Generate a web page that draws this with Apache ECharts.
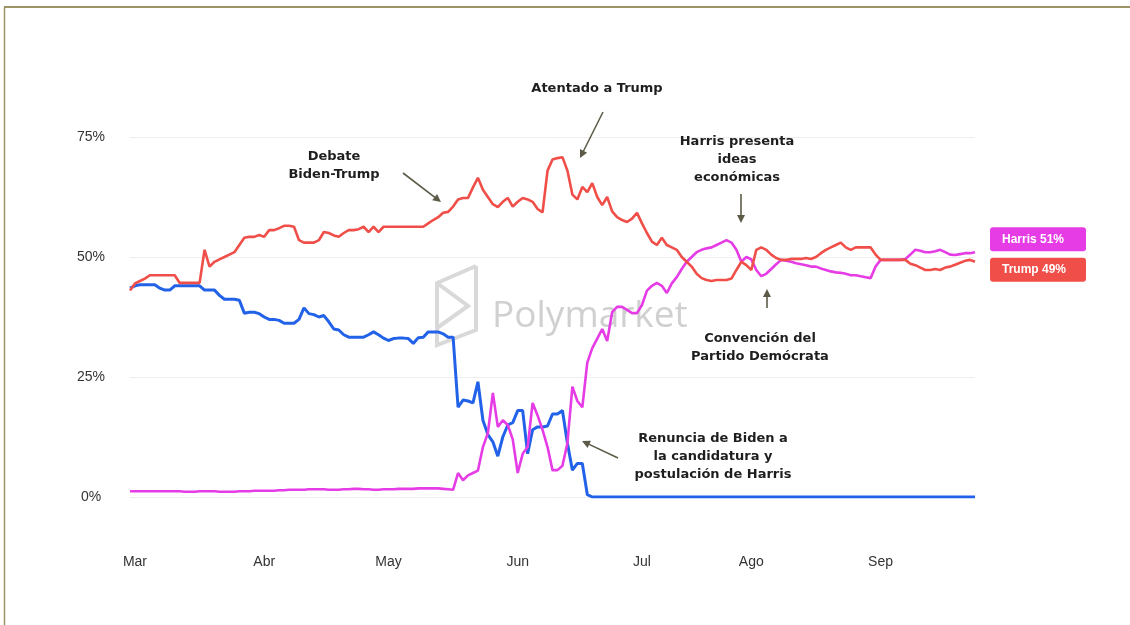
<!DOCTYPE html>
<html>
<head>
<meta charset="utf-8">
<script src="https://cdn.jsdelivr.net/npm/echarts@6/dist/echarts.min.js"></script>
<style>
html,body{margin:0;padding:0;background:#fff;}
#chart{width:1130px;height:625px;}
</style>
</head>
<body>
<div id="chart"></div>
<script>
// ---- DATA (daily-ish samples, Mar -> late Sep, values in %) ----
const trump = [
43,44.5,45,45.5,46.2,46.2,46.2,46.2,46.2,46.2,
44.6,44.6,44.6,44.6,44.6,51.5,48,49,49.5,50,
50.5,51,52.5,54,54.2,54.2,54.6,54.2,55.6,55.6,
56,56.5,56.5,56.3,53.5,53,53,53,53.5,55.2,
55,54.5,54.2,55,55.6,55.6,55.8,56.3,55.2,56.3,
55.2,56.3,56.3,56.3,56.3,56.3,56.3,56.3,56.3,56.3,
57,57.7,58.3,59.2,59.4,60.5,62,62.3,62.3,64.5,
66.5,64,62.5,61,60.4,61.5,62.3,60.5,61.5,62.3,
62,61.5,60,59.3,68,70.3,70.6,70.8,68,63,
62,64.6,63.5,65.4,62.5,60.8,62.5,59.5,58.3,57.7,
57.3,58,59.2,57,55,53.2,52.5,54,52.5,52,
51.5,50,49,48,46.5,45.6,45.2,45,45.2,45.2,
45.2,45.5,47.3,49,48.3,47.3,51.5,52,51.5,50.5,
49.8,49.4,49.4,49.6,49.6,49.6,49.8,49.6,50,50.8,
51.5,52,52.5,53,52,51.5,52,52,52,52,
50.5,49.4,49.4,49.4,49.4,49.4,49.4,48.6,48.3,47.8,
47.3,47.3,47.5,47.3,47.8,48,48.4,48.8,49.2,49.4,
49
];
const biden = [
43.5,44,44.2,44.2,44.2,44.2,43.5,43.1,43.1,44,
44,44,44,44,44,43.1,43.1,43.1,42,41.2,
41.2,41.2,41,38.3,38.5,38.5,38.2,37.5,37,37,
36.8,36.2,36.2,36.2,37,39.4,38.2,38,37.5,37.8,
36.5,35,34.8,33.8,33.3,33.3,33.3,33.3,33.8,34.4,
33.8,33.1,32.6,33,33.1,33.1,33,32,33.2,33.3,
34.4,34.4,34.4,34,33.3,33.3,18.7,20.2,20,19.6,
24,16,13,11.5,8.5,12.5,15,15.5,18,18,
9,14,14.6,14.6,14.8,17.3,17.3,18,11.2,5.6,
7,7,0.5,0,0,0,0,0,0,0,
0,0,0,0,0,0,0,0,0,0,
0,0,0,0,0,0,0,0,0,0,
0,0,0,0,0,0,0,0,0,0,
0,0,0,0,0,0,0,0,0,0,
0,0,0,0,0,0,0,0,0,0,
0,0,0,0,0,0,0,0,0,0,
0,0,0,0,0,0,0,0,0,0,
0
];
const harris = [
1.2,1.2,1.2,1.2,1.2,1.2,1.2,1.2,1.2,1.2,
1.2,1.1,1.1,1.1,1.2,1.2,1.2,1.2,1.1,1.1,
1.1,1.1,1.2,1.2,1.2,1.3,1.3,1.3,1.3,1.3,
1.4,1.4,1.5,1.5,1.5,1.5,1.6,1.6,1.6,1.6,
1.5,1.5,1.5,1.6,1.6,1.7,1.7,1.6,1.6,1.5,
1.5,1.6,1.6,1.6,1.7,1.7,1.7,1.7,1.8,1.8,
1.8,1.8,1.8,1.7,1.6,1.5,5,3.5,4.5,5,
5.5,10.4,13.3,21.7,14.6,16,15,12,5,9,
10.4,19.6,17,14,10.4,5.6,5.6,6.5,11.2,23,
20,18.7,28,31,33,35,32.5,38.5,39.6,39.6,
39,38.3,38.3,40,43,44,44.6,44,42.5,44.5,
45.8,47.5,49,50,51,51.5,51.8,52,52.5,53,
53.5,53,51.5,49,50,49.5,47.3,46,46.5,47.5,
48.5,49.4,49.2,49,48.7,48.5,48.3,48,48,47.6,
47.3,47,46.8,46.7,46.5,46.2,46.2,46,45.8,45.6,
48,49.4,49.4,49.4,49.4,49.4,49.6,50.5,51.5,51.3,
51,51,51.2,51.5,51,50.5,50.4,50.6,50.8,50.8,
51
];
const categories = trump.map((_, i) => String(i));
const monthLabels = ['Mar','Abr','May','Jun','Jul','Ago','Sep'];
const monthIndex = [1, 27, 52, 78, 103, 125, 151];
const yTicks = [0, 25, 50, 75];

const C_TRUMP = '#f04e48', C_HARRIS = '#e63ce6', C_BIDEN = '#2262e8';
const ARROW = '#5d5b48', TXT = '#1e1e1e';
const last = trump.length - 1;

function arrow(x1, y1, x2, y2) {
  const dx = x2 - x1, dy = y2 - y1, L = Math.hypot(dx, dy);
  const ux = dx / L, uy = dy / L, px = -uy, py = ux, h = 8, w = 4;
  return [
    {type: 'line', z: 100, shape: {x1, y1, x2: x2 - ux * h * 0.7, y2: y2 - uy * h * 0.7},
     style: {stroke: ARROW, lineWidth: 1.6}},
    {type: 'polygon', z: 100, shape: {points: [[x2, y2],
      [x2 - ux * h + px * w, y2 - uy * h + py * w],
      [x2 - ux * h - px * w, y2 - uy * h - py * w]]}, style: {fill: ARROW}}
  ];
}
function note(x, y, text) {
  return {type: 'text', z: 100, x, y, style: {text, fill: TXT, font: 'bold 13px "DejaVu Sans"',
    textAlign: 'center', textVerticalAlign: 'middle', lineHeight: 18}};
}

const chart = echarts.init(document.getElementById('chart'), null, {renderer: 'canvas'});
chart.setOption({
  animation: false,
  backgroundColor: '#ffffff',
  grid: {left: 130, right: 155, top: 137, bottom: 128},
  xAxis: {
    type: 'category', data: categories, boundaryGap: false,
    axisLine: {show: false}, axisTick: {show: false},
    axisLabel: {
      interval: (idx) => monthIndex.includes(idx),
      formatter: (v, idx) => monthLabels[monthIndex.indexOf(Number(v))] || '',
      margin: 58, color: '#333', fontSize: 14,
      fontFamily: '"Liberation Sans Narrow", "Liberation Sans", sans-serif'
    },
    splitLine: {show: false}
  },
  yAxis: {
    type: 'value', min: yTicks[0], max: yTicks[yTicks.length - 1], interval: 25,
    axisLine: {show: false}, axisTick: {show: false},
    axisLabel: {formatter: '{value}%', align: 'center', margin: 39, color: '#333', fontSize: 14,
      fontFamily: '"Liberation Sans", sans-serif'},
    splitLine: {lineStyle: {color: '#eeeeee', width: 1}}
  },
  series: [
    {name: 'Biden', type: 'line', data: biden, z: 3,
     symbol: 'circle', showSymbol: true, symbolSize: (v, p) => p.dataIndex === last ? 11 : 0,
     itemStyle: {color: C_BIDEN}, lineStyle: {color: C_BIDEN, width: 3}},
    {name: 'Harris', type: 'line', data: harris, z: 4,
     symbol: 'circle', showSymbol: true, symbolSize: (v, p) => p.dataIndex === last ? 9 : 0,
     itemStyle: {color: C_HARRIS}, lineStyle: {color: C_HARRIS, width: 2.6},
     endLabel: {show: true, formatter: (p) => 'Harris ' + Math.round(p.value) + '%',
       backgroundColor: C_HARRIS, color: '#fff', fontWeight: 'bold', fontSize: 12,
       fontFamily: '"Liberation Sans", sans-serif', width: 72, align: 'left',
       padding: [6, 12], borderRadius: 3, offset: [7, -13]}},
    {name: 'Trump', type: 'line', data: trump, z: 5,
     symbol: 'circle', showSymbol: true, symbolSize: (v, p) => p.dataIndex === last ? 9 : 0,
     itemStyle: {color: C_TRUMP}, lineStyle: {color: C_TRUMP, width: 2.6},
     endLabel: {show: true, formatter: (p) => 'Trump ' + Math.round(p.value) + '%',
       backgroundColor: C_TRUMP, color: '#fff', fontWeight: 'bold', fontSize: 12,
       fontFamily: '"Liberation Sans", sans-serif', width: 72, align: 'left',
       padding: [6, 12], borderRadius: 3, offset: [7, 8]}}
  ],
  graphic: [
    // frame
    {type: 'line', shape: {x1: 4, y1: 7, x2: 1130, y2: 7}, style: {stroke: '#9d9468', lineWidth: 2}},
    {type: 'line', shape: {x1: 4.5, y1: 7, x2: 4.5, y2: 625}, style: {stroke: '#9d9468', lineWidth: 1.5}},
    // watermark
    {type: 'polyline', z: 0, shape: {points: [[476, 266], [437, 283], [437, 345], [476, 330], [476, 266]]},
     style: {stroke: '#d9d9d9', lineWidth: 4, fill: null}},
    {type: 'polyline', z: 0, shape: {points: [[437, 283], [468, 306], [437, 328]]},
     style: {stroke: '#d9d9d9', lineWidth: 4, fill: null}},
    {type: 'text', z: 0, x: 492, y: 316, style: {text: 'Polymarket', fill: '#d0d0d0',
      font: '37px "Open Sans", sans-serif', textVerticalAlign: 'middle'}},
    // annotations
    note(334, 166, 'Debate\nBiden-Trump'),
    ...arrow(403, 173, 441, 202),
    note(597, 89, 'Atentado a Trump'),
    ...arrow(603, 112, 580, 158),
    note(737, 160, 'Harris presenta\nideas\neconómicas'),
    ...arrow(741, 194, 741, 223),
    note(760, 348, 'Convención del\nPartido Demócrata'),
    ...arrow(767, 308, 767, 289),
    note(713, 457, 'Renuncia de Biden a\nla candidatura y\npostulación de Harris'),
    ...arrow(618, 458, 582, 441)
  ]
});
</script>
</body>
</html>
